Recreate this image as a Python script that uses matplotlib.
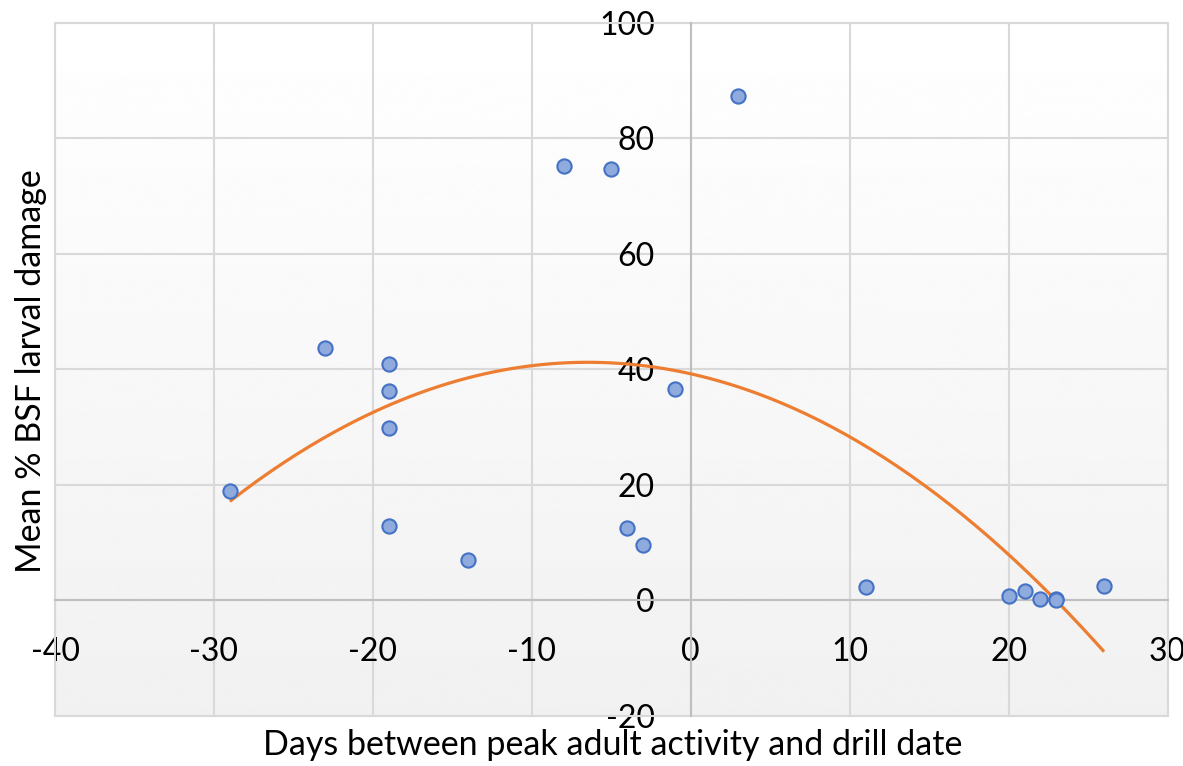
import numpy as np
import matplotlib
matplotlib.use("Agg")
import matplotlib.pyplot as plt
from matplotlib.patches import Rectangle

days = [-29, -23, -19, -19, -19, -19, -14, -8, -5, -4, -3, -1, 3, 11, 20, 21, 22, 23, 23, 26]
damage = [19.0, 43.7, 41.0, 36.3, 29.9, 12.9, 7.0, 75.2, 74.7, 12.6, 9.6, 36.7, 87.4, 2.3, 0.7, 1.6, 0.3, 0.3, 0.0, 2.5]
xticks = [-40, -30, -20, -10, 0, 10, 20, 30]
yticks = [-20, 0, 20, 40, 60, 80, 100]

plt.rcParams['font.family'] = ['Lato', 'DejaVu Sans']
plt.rcParams['axes.unicode_minus'] = False

fig = plt.figure(figsize=(11.83, 7.66), dpi=100)
ax = fig.add_axes([0.0465, 0.0653, 0.9405, 0.9047])
ax.set_xlim(-40, 30)
ax.set_ylim(-20, 100)

# gradient background
grad = np.linspace(1.0, 0.945, 256).reshape(-1, 1)
ax.imshow(grad, extent=[0, 1, 0, 1], transform=ax.transAxes, cmap='gray',
          vmin=0, vmax=1, aspect='auto', zorder=0, interpolation='bicubic')

for s in ['top', 'right']:
    ax.spines[s].set_visible(False)
ax.spines['left'].set_position(('data', 0))
ax.spines['bottom'].set_position(('data', 0))
for s in ['left', 'bottom']:
    ax.spines[s].set_color('#bfbfbf')
    ax.spines[s].set_linewidth(1.5)
    ax.spines[s].set_zorder(1.5)

ax.add_patch(Rectangle((0, 0), 1, 1, transform=ax.transAxes, fill=False,
                       edgecolor='#d9d9d9', linewidth=1.5, zorder=1, clip_on=False))

ax.set_xticks(xticks)
ax.set_yticks(yticks)
ax.grid(True, color='#d9d9d9', linewidth=1.5, zorder=1)
ax.set_axisbelow(True)
ax.tick_params(length=0, labelsize=23, colors='black')
ax.tick_params(axis='x', pad=26)
ax.tick_params(axis='y', pad=26)
for lab in ax.get_yticklabels() + ax.get_xticklabels():
    lab.set_zorder(5)

# polynomial (order 2) trendline
coef = np.polyfit(days, damage, 2)
xs = np.linspace(min(days), max(days), 200)
ax.plot(xs, np.polyval(coef, xs), color='#ed7d31', linewidth=2.3, zorder=3,
        solid_capstyle='butt')

ax.scatter(days, damage, s=105, facecolor='#8faadc', edgecolor='#4472c4',
           linewidth=1.5, zorder=4)

fig.text(0.518, 0.027, 'Days between peak adult activity and drill date',
         ha='center', va='center', fontsize=24.5)
fig.text(0.026, 0.516, 'Mean % BSF larval damage', ha='center', va='center',
         rotation=90, fontsize=24.5)

fig.savefig('out.png', dpi=100)
